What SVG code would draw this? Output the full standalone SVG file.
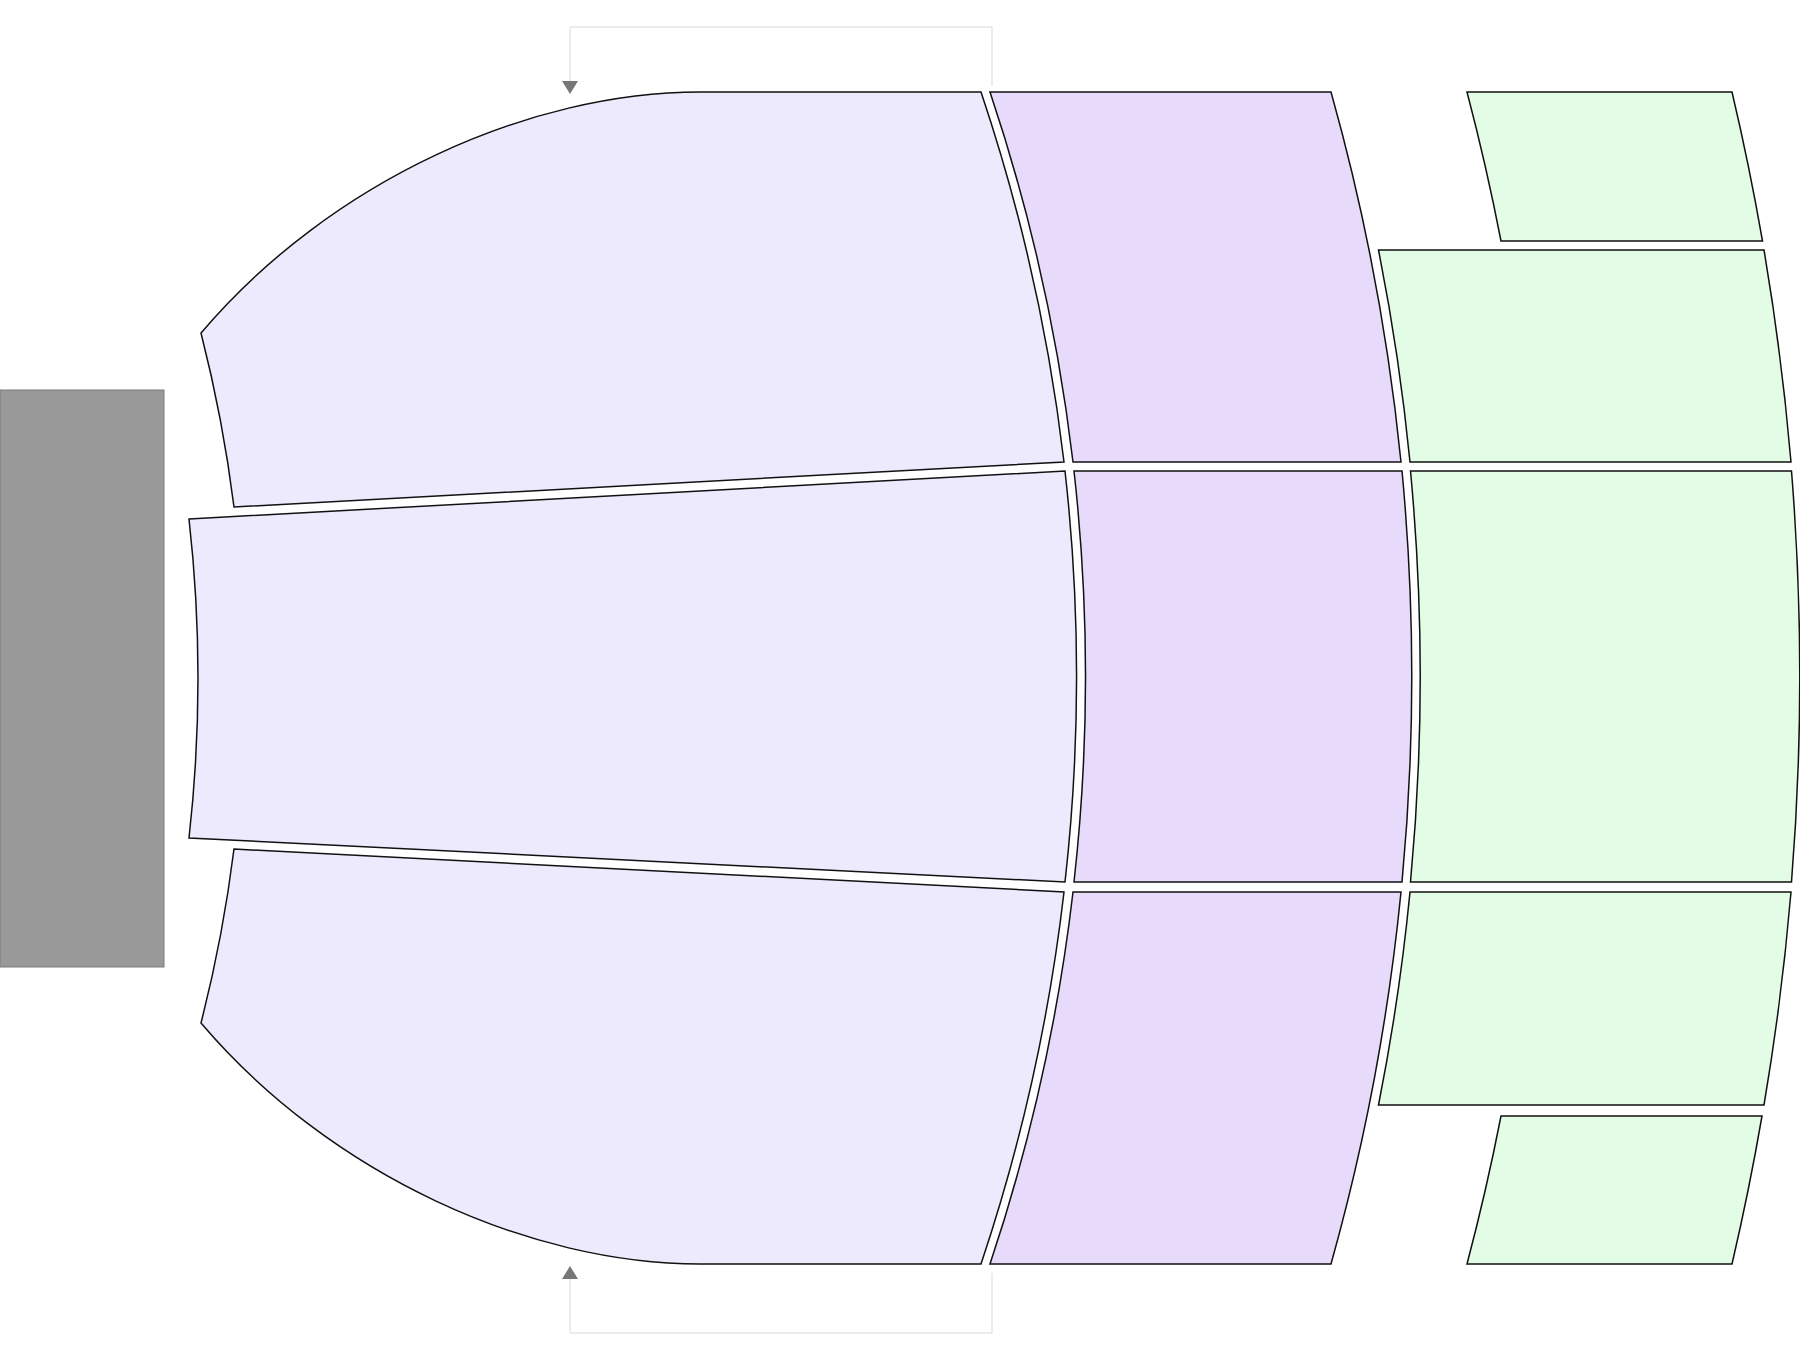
<svg xmlns="http://www.w3.org/2000/svg" width="1800" height="1365" viewBox="0 0 1800 1365">
<style>
.sec{stroke:#111111;stroke-width:1.5;stroke-linejoin:miter}
.lav{fill:#eeeafd}
.pur{fill:#e8dafa}
.grn{fill:#e2fce5}
.stage{fill:#999999;stroke:#7a7a7a;stroke-width:1}
.conn{fill:none;stroke:#e6e6e6;stroke-width:1.5}
</style>
<defs>
<marker id="arr" viewBox="0 0 13 16" refX="0" refY="8" markerWidth="13" markerHeight="16" markerUnits="userSpaceOnUse" orient="auto">
<path d="M0,0 L13,8 L0,16 Z" fill="#777777"/>
</marker>
</defs>
<rect width="1800" height="1365" fill="#ffffff"/>
<g id="stage"><rect class="stage" x="0" y="390" width="164" height="577"/></g>
<g id="lavender-top"><path class="sec lav" d="M201,333 C331,180 530,92 700,92 L981,92 A1834,1834 0 0 1 1064,462 L234,507 Q223,419 201,333 Z"/></g>
<g id="lavender-middle"><path class="sec lav" d="M189,519 L1065,471 A1834,1834 0 0 1 1065,882 L189,838 Q207,678 189,519 Z"/></g>
<g id="lavender-bottom"><path class="sec lav" d="M234,849 L1064,892 A1834,1834 0 0 1 981,1264 L700,1264 C530,1264 331,1176 201,1023 Q223,937 234,849 Z"/></g>
<g id="purple-top"><path class="sec pur" d="M990,92 L1331,92 A2168.5,2168.5 0 0 1 1401,462 L1073,462 A1842.5,1842.5 0 0 0 990,92 Z"/></g>
<g id="purple-middle"><path class="sec pur" d="M1074,471 L1402,471 A2168.5,2168.5 0 0 1 1402,882 L1074,882 A1842.5,1842.5 0 0 0 1074,471 Z"/></g>
<g id="purple-bottom"><path class="sec pur" d="M1073,892 L1401,892 A2168.5,2168.5 0 0 1 1331,1264 L990,1264 A1842.5,1842.5 0 0 0 1073,892 Z"/></g>
<g id="green-1"><path class="sec grn" d="M1467,92 L1732,92 A2557,2557 0 0 1 1762.5,241 L1501,241 A2300,2300 0 0 0 1467,92 Z"/></g>
<g id="green-2"><path class="sec grn" d="M1378.5,250 L1764,250 A2557,2557 0 0 1 1791,462 L1410,462 A2178,2178 0 0 0 1378.5,250 Z"/></g>
<g id="green-3"><path class="sec grn" d="M1410.5,471 L1791.5,471 A2557,2557 0 0 1 1791.5,882 L1410.5,882 A2178,2178 0 0 0 1410.5,471 Z"/></g>
<g id="green-4"><path class="sec grn" d="M1410,892 L1791,892 A2557,2557 0 0 1 1764,1105 L1378.5,1105 A2178,2178 0 0 0 1410,892 Z"/></g>
<g id="green-5"><path class="sec grn" d="M1501,1116 L1762,1116 A2557,2557 0 0 1 1732,1264 L1467,1264 A2300,2300 0 0 0 1501,1116 Z"/></g>
<g id="connectors">
<path class="conn" d="M992,86 L992,27 L570,27 L570,81" marker-end="url(#arr)"/>
<path class="conn" d="M992,1273 L992,1333 L570,1333 L570,1279" marker-end="url(#arr)"/>
</g>
</svg>
